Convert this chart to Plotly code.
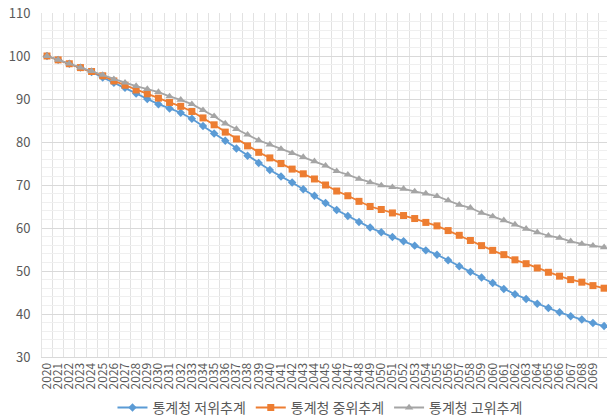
import plotly.graph_objects as go

years = list(range(2020, 2071))

low = [100.0, 99.1, 98.2, 97.3, 96.3, 95.0, 93.8, 92.6, 91.3, 90.0,
       88.8, 87.8, 86.8, 85.4, 83.7, 82.0, 80.3, 78.5, 76.8, 75.1,
       73.5, 72.0, 70.6, 69.0, 67.5, 65.8, 64.2, 62.8, 61.4, 60.1,
       59.0, 57.9, 56.9, 55.9, 54.8, 53.8, 52.5, 51.1, 49.8, 48.5,
       47.2, 45.8, 44.6, 43.5, 42.4, 41.4, 40.4, 39.5, 38.7, 37.9, 37.2]

mid = [100.0, 99.1, 98.2, 97.3, 96.4, 95.4, 94.2, 93.2, 92.1, 91.2,
       90.2, 89.2, 88.3, 87.1, 85.6, 84.0, 82.3, 80.7, 79.1, 77.6,
       76.3, 75.0, 73.7, 72.6, 71.4, 70.0, 68.6, 67.5, 66.2, 65.0,
       64.3, 63.5, 62.9, 62.2, 61.3, 60.5, 59.4, 58.3, 57.1, 55.9,
       54.8, 53.8, 52.6, 51.7, 50.7, 49.7, 48.8, 48.0, 47.4, 46.6, 46.0]

high = [100.0, 99.1, 98.2, 97.3, 96.5, 95.6, 94.6, 93.8, 93.0, 92.3,
        91.6, 90.6, 89.8, 88.8, 87.4, 86.0, 84.3, 83.0, 81.7, 80.4,
        79.4, 78.4, 77.4, 76.5, 75.5, 74.5, 73.2, 72.4, 71.4, 70.6,
        69.9, 69.5, 69.1, 68.5, 68.0, 67.4, 66.4, 65.4, 64.7, 63.5,
        62.7, 61.8, 60.8, 59.8, 59.0, 58.2, 57.7, 56.9, 56.3, 55.9, 55.5]

names = ["통계청 저위추계", "통계청 중위추계", "통계청 고위추계"]
colors = ["#5b9bd5", "#ed7d31", "#a5a5a5"]
symbols = ["diamond", "square", "triangle-up"]
sizes = [6.5, 7, 7.5]

fig = go.Figure()
for name, vals, c, s, sz in zip(names, [low, mid, high], colors, symbols, sizes):
    fig.add_trace(go.Scatter(
        x=years, y=vals, name=name, mode="lines+markers",
        line=dict(color=c, width=1.8),
        marker=dict(symbol=s, size=sz, color=c),
    ))

font_family = "Noto Sans CJK KR, Noto Sans, sans-serif"

fig.update_layout(
    width=607, height=419,
    margin=dict(l=42, r=0, t=13, b=62, autoexpand=False),
    paper_bgcolor="white", plot_bgcolor="white",
    font=dict(family=font_family, color="#595959", size=12),
    showlegend=True,
    legend=dict(orientation="h", x=0.492, xanchor="center", y=-0.148, yanchor="middle",
                font=dict(size=14, color="#595959"), itemwidth=30,
                bgcolor="rgba(0,0,0,0)"),
    xaxis=dict(
        range=[2019.55, 2070.26], automargin=False,
        tickmode="array", tickvals=years, ticktext=[str(y) for y in years],
        tickangle=-90, tickfont=dict(size=12, color="#595959"),
        showgrid=False, zeroline=False,
        showline=True, linecolor="#d9d9d9", linewidth=1,
        ticks="",
        minor=dict(tick0=2019.5, dtick=1, showgrid=True, gridcolor="#e2e2e2", gridwidth=1, ticks=""),
    ),
    yaxis=dict(
        range=[30, 110], dtick=10, tick0=30, automargin=False,
        tickfont=dict(size=13, color="#595959"),
        showgrid=True, gridcolor="#d9d9d9", gridwidth=1,
        zeroline=False, showline=True, linecolor="#e4e4e4",
        ticks="", ticklabelstandoff=8,
        minor=dict(dtick=2, showgrid=True, gridcolor="#efefef", gridwidth=1, ticks=""),
    ),
)

fig.write_html(
    "out.html",
    config={"displayModeBar": False},
    post_script="document.body.style.margin='0';document.body.style.padding='0';document.body.style.overflow='hidden';",
)
